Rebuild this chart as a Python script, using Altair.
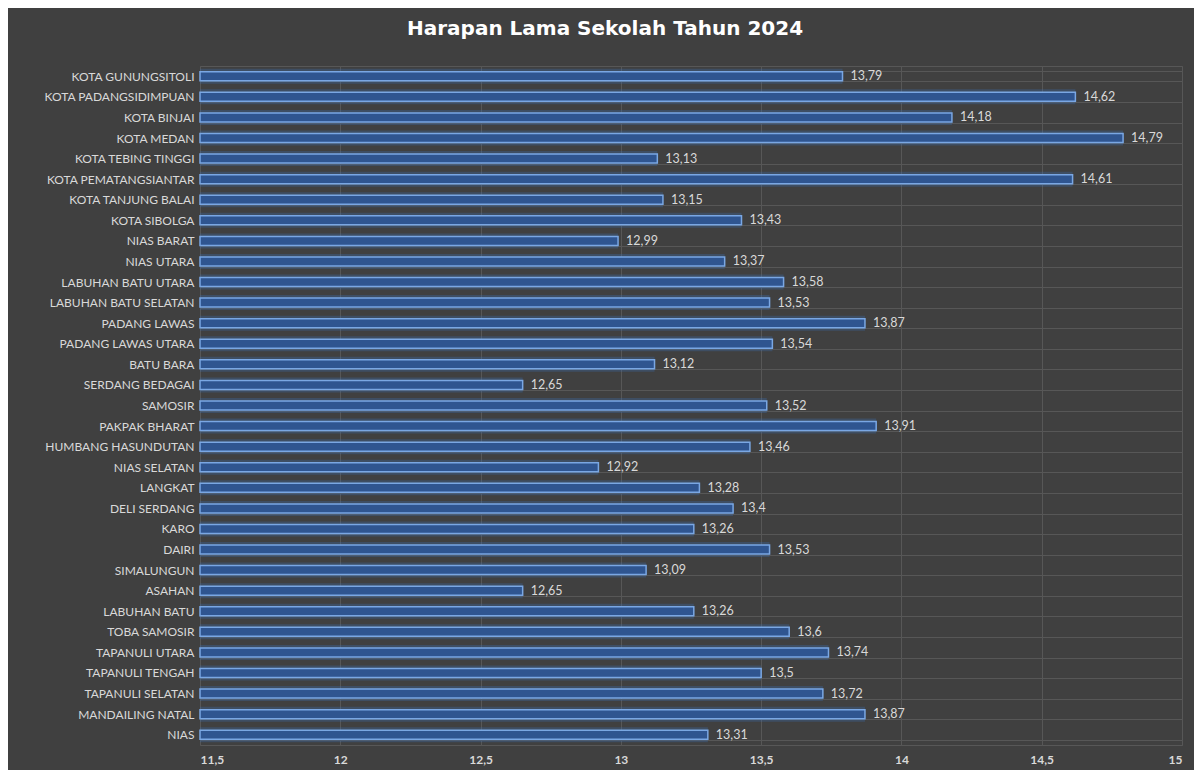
import altair as alt
import pandas as pd

regions = [
    "KOTA GUNUNGSITOLI", "KOTA PADANGSIDIMPUAN", "KOTA BINJAI", "KOTA MEDAN",
    "KOTA TEBING TINGGI", "KOTA PEMATANGSIANTAR", "KOTA TANJUNG BALAI", "KOTA SIBOLGA",
    "NIAS BARAT", "NIAS UTARA", "LABUHAN BATU UTARA", "LABUHAN BATU SELATAN",
    "PADANG LAWAS", "PADANG LAWAS UTARA", "BATU BARA", "SERDANG BEDAGAI",
    "SAMOSIR", "PAKPAK BHARAT", "HUMBANG HASUNDUTAN", "NIAS SELATAN",
    "LANGKAT", "DELI SERDANG", "KARO", "DAIRI", "SIMALUNGUN", "ASAHAN",
    "LABUHAN BATU", "TOBA SAMOSIR", "TAPANULI UTARA", "TAPANULI TENGAH",
    "TAPANULI SELATAN", "MANDAILING NATAL", "NIAS",
]
values = [
    13.79, 14.62, 14.18, 14.79,
    13.13, 14.61, 13.15, 13.43,
    12.99, 13.37, 13.58, 13.53,
    13.87, 13.54, 13.12, 12.65,
    13.52, 13.91, 13.46, 12.92,
    13.28, 13.40, 13.26, 13.53, 13.09, 12.65,
    13.26, 13.60, 13.74, 13.50,
    13.72, 13.87, 13.31,
]
x_min, x_max = 11.5, 15.0
x_ticks = [11.5, 12, 12.5, 13, 13.5, 14, 14.5, 15]

df = pd.DataFrame({"region": regions, "value": values})

BG = "#404040"
TXT = "#d9d9d9"
FONT = "Lato"

y_enc = alt.Y(
    "region:N", sort=regions, title=None,
    scale=alt.Scale(paddingInner=0.5, paddingOuter=0.25),
    axis=alt.Axis(
        labelColor=TXT, labelFont=FONT, labelFontSize=12, labelPadding=6,
        ticks=False, domain=False, grid=True, gridColor="#575757",
        tickBand="extent", labelLimit=300,
    ),
)
x_enc = alt.X(
    "value:Q", title=None,
    scale=alt.Scale(domain=[x_min, x_max], zero=False, nice=False),
    axis=alt.Axis(
        values=x_ticks, labelColor=TXT, labelFont=FONT, labelFontSize=12,
        labelPadding=9, ticks=False, domain=False, grid=True, gridColor="#575757",
        labelExpr="replace(format(datum.value, '.1~f'), '.', ',')",
        labelFontWeight="bold",
    ),
)

base = alt.Chart(df).encode(y=y_enc)

glow = base.mark_bar(size=15, color="#3d6fb5", opacity=0.3).encode(
    x=x_enc, x2=alt.datum(x_min)
)
bars = base.mark_bar(size=9, fill="#2f5590", stroke="#7aa7e3", strokeWidth=1.5).encode(
    x=x_enc, x2=alt.datum(x_min)
)
labels = base.transform_calculate(
    lbl="replace(format(datum.value, '.2~f'), '.', ',')"
).mark_text(
    align="left", baseline="middle", dx=8, color=TXT, font=FONT, fontSize=12.5
).encode(x=x_enc, text="lbl:N")

chart = alt.layer(glow, bars, labels).properties(
    width=982,
    height=679,
    background=BG,
    padding={"left": 192, "top": 58, "right": 12, "bottom": 25},
    autosize=alt.AutoSizeParams(type="none"),
    title=alt.TitleParams(
        "Harapan Lama Sekolah Tahun 2024",
        color="#ffffff", font="DejaVu Sans", fontSize=20, fontWeight="bold",
        anchor="middle", dx=-86, offset=5, baseline="alphabetic",
    ),
).configure_view(stroke="#575757")

chart.save("out.html", embed_options={"renderer": "svg", "actions": False})
